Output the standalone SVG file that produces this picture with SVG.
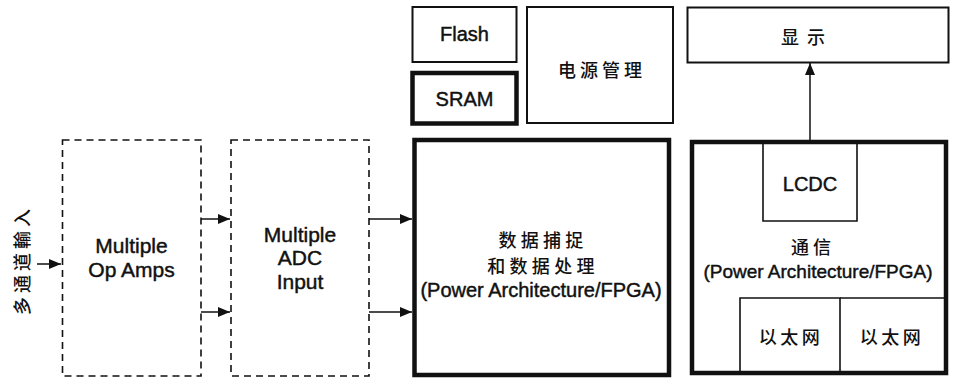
<svg xmlns="http://www.w3.org/2000/svg" width="954" height="379" viewBox="0 0 954 379">
  <defs>
    <marker id="ah" markerWidth="12" markerHeight="10" refX="12" refY="5" orient="auto" markerUnits="userSpaceOnUse">
      <path d="M0,0 L12,5 L0,10 Z" fill="#111"/>
    </marker>
    <style>
      .thin{fill:#fff;stroke:#111;stroke-width:2}
      .thick{fill:#fff;stroke:#111;stroke-width:4.5}
      .dash{fill:#fff;stroke:#111;stroke-width:1.6;stroke-dasharray:7 5}
      .inner{fill:none;stroke:#111;stroke-width:1.6}
      .en{font-family:"Liberation Sans",Arial,sans-serif;fill:#111;stroke:#111;stroke-width:0.45;text-anchor:middle}
      .zh{font-family:"Noto Sans CJK SC","Noto Sans CJK TC",sans-serif;fill:#111;text-anchor:middle;font-size:18px;font-weight:500}
      .con{stroke:#111;stroke-width:1.5;fill:none;marker-end:url(#ah)}
    </style>
  </defs>
  <rect width="954" height="379" fill="#fff"/>

  <g id="input-label">
    <text class="zh" transform="translate(29,262) rotate(-90)" letter-spacing="4" x="2">多通道輸入</text>
  </g>

  <g id="op-amps">
    <rect class="dash" x="62.5" y="140" width="138.5" height="236"/>
    <text class="en" font-size="21" x="131.5" y="253">Multiple</text>
    <text class="en" font-size="21" x="131.5" y="277">Op Amps</text>
  </g>

  <g id="adc">
    <rect class="dash" x="231" y="140" width="138" height="236"/>
    <text class="en" font-size="21" x="300" y="242">Multiple</text>
    <text class="en" font-size="21" x="300" y="265">ADC</text>
    <text class="en" font-size="21" x="300" y="289">Input</text>
  </g>

  <g id="flash">
    <rect class="thin" x="412.5" y="7" width="104" height="55"/>
    <text class="en" font-size="20" x="464.5" y="41">Flash</text>
  </g>

  <g id="sram">
    <rect class="thick" x="412.5" y="73" width="104" height="50.5"/>
    <text class="en" font-size="20" x="464.5" y="106">SRAM</text>
  </g>

  <g id="power-mgmt">
    <rect class="thin" x="527" y="7" width="146" height="116"/>
    <text class="zh" x="602" y="77" letter-spacing="4">电源管理</text>
  </g>

  <g id="display">
    <rect class="thin" x="687.5" y="7.5" width="261" height="55"/>
    <text class="zh" x="807" y="44" letter-spacing="8">显示</text>
  </g>

  <g id="data-processing">
    <rect class="thick" x="414.5" y="140" width="254.5" height="235"/>
    <text class="zh" x="543" y="247" letter-spacing="4.3">数据捕捉</text>
    <text class="zh" x="543" y="273" letter-spacing="4.3">和数据处理</text>
    <text class="en" font-size="20" x="541" y="297">(Power Architecture/FPGA)</text>
  </g>

  <g id="comms">
    <rect class="thick" x="692" y="142" width="254" height="231"/>
    <text class="zh" x="813" y="254" letter-spacing="4">通信</text>
    <text class="en" font-size="19" x="818" y="278">(Power Architecture/FPGA)</text>
  </g>

  <g id="lcdc">
    <path class="inner" d="M763,144 V221 H857 V144"/>
    <text class="en" font-size="20" x="810" y="191">LCDC</text>
  </g>

  <g id="ethernet-1">
    <path class="inner" d="M740,373 V298 H840 V373"/>
    <text class="zh" x="791" y="344" letter-spacing="3.5">以太网</text>
  </g>

  <g id="ethernet-2">
    <path class="inner" d="M840,298 H944"/>
    <text class="zh" x="892" y="344" letter-spacing="3.5">以太网</text>
  </g>

  <g id="connectors">
    <line class="con" x1="37" y1="264" x2="61" y2="264"/>
    <line class="con" x1="201" y1="219" x2="230" y2="219"/>
    <line class="con" x1="201" y1="312" x2="230" y2="312"/>
    <line class="con" x1="369" y1="219" x2="412" y2="219"/>
    <line class="con" x1="369" y1="312" x2="412" y2="312"/>
    <line class="con" x1="810" y1="140" x2="810" y2="63"/>
  </g>
</svg>
